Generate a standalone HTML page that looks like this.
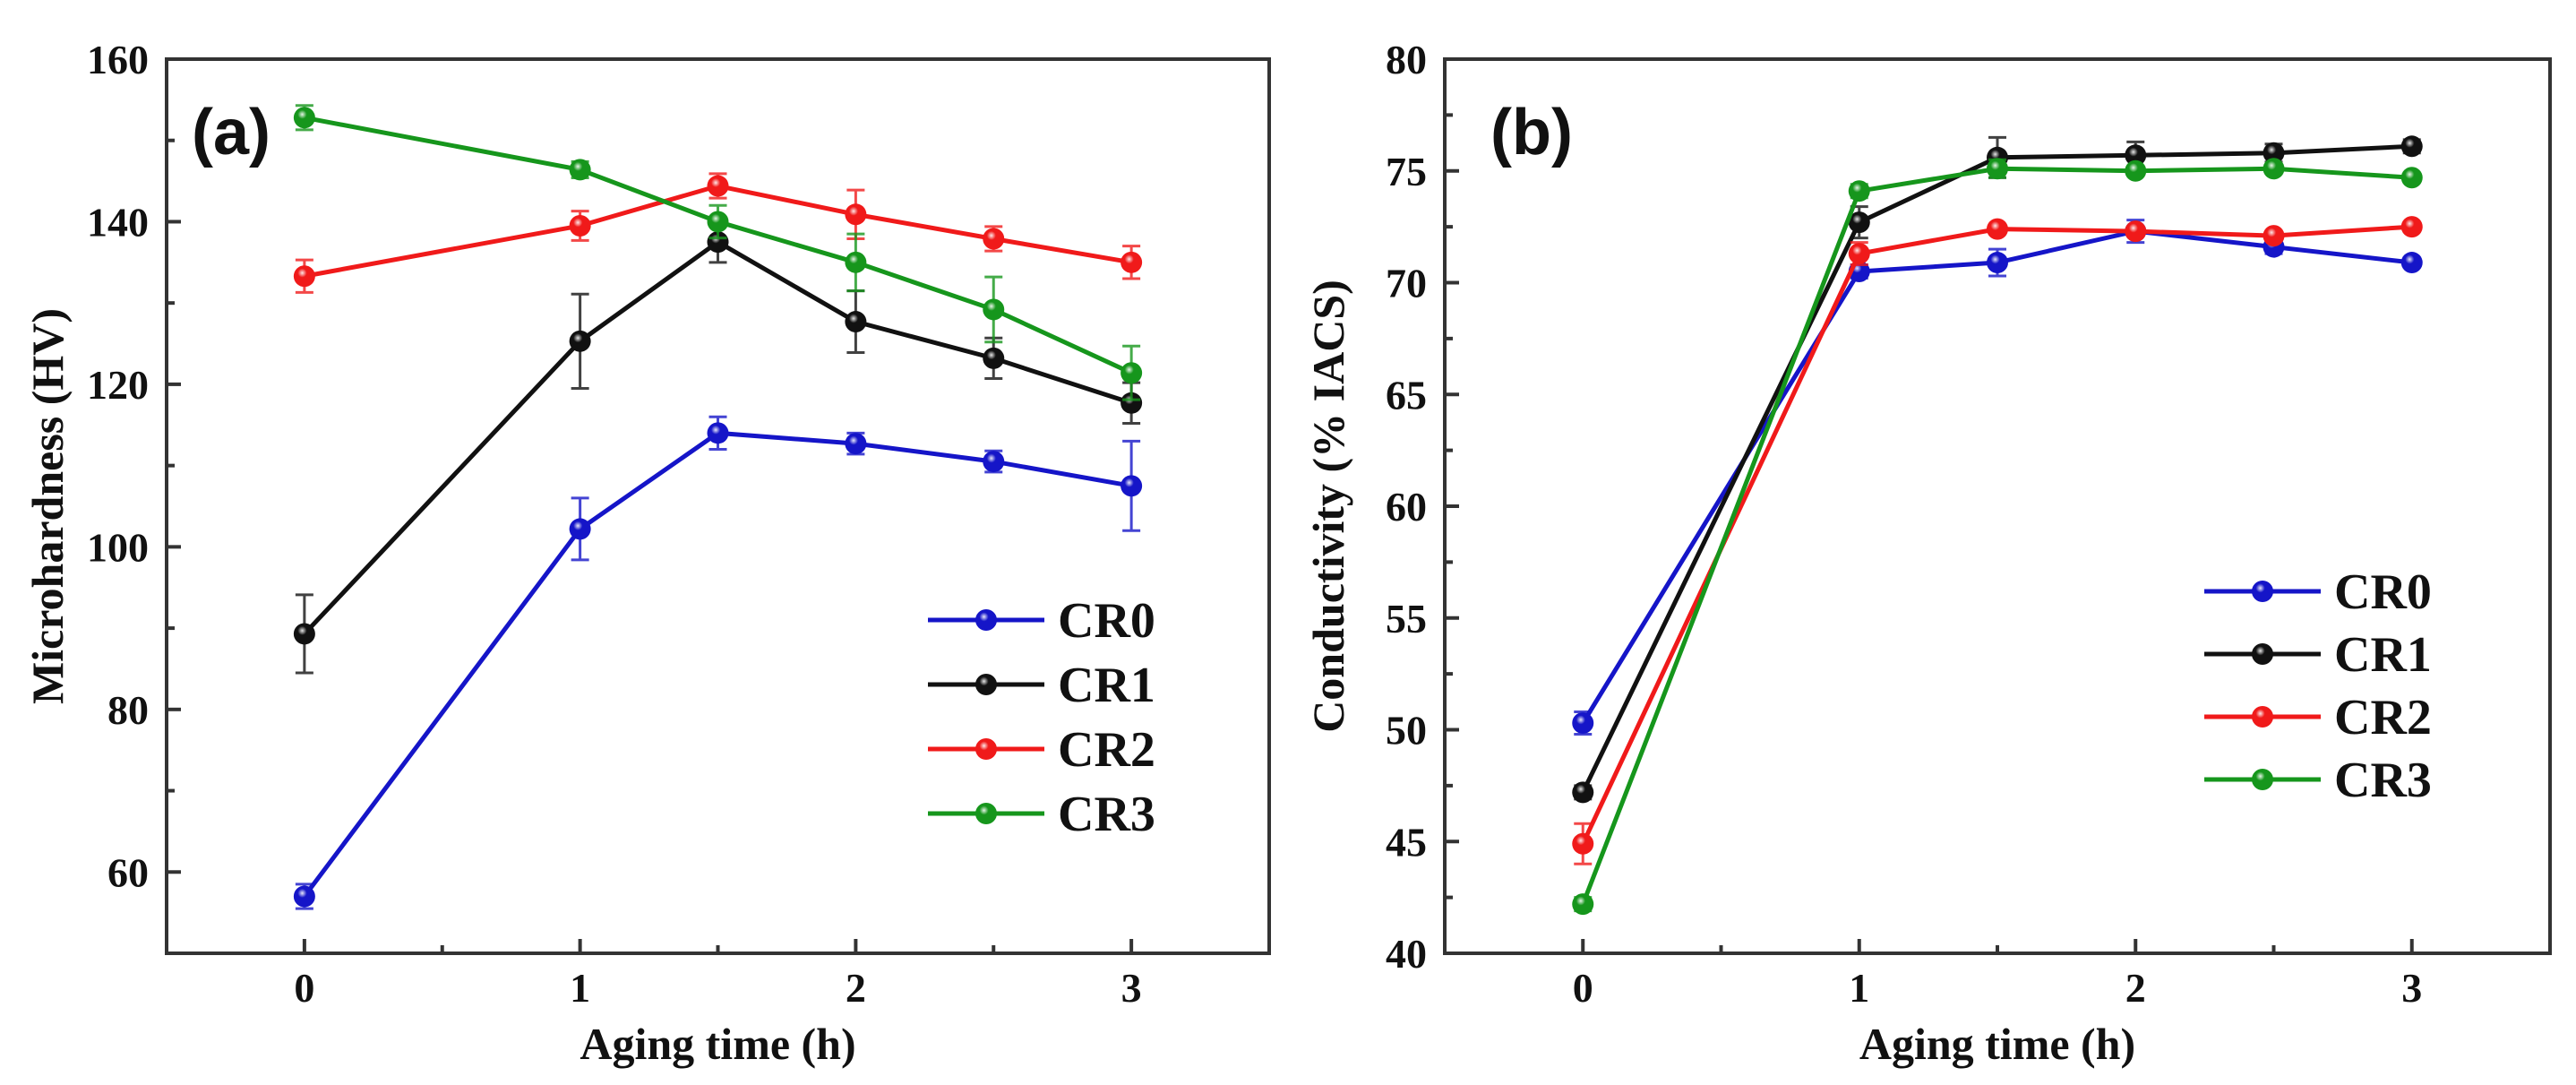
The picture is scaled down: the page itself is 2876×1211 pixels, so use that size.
<!DOCTYPE html>
<html><head><meta charset="utf-8"><style>
html,body{margin:0;padding:0;background:#fff;}
svg{display:block;}
text{font-family:"Liberation Serif",serif;font-weight:bold;fill:#111;}
</style></head><body>
<svg id="chart" width="2876" height="1211" viewBox="0 0 2876 1211" xmlns="http://www.w3.org/2000/svg">
<defs>
<radialGradient id="hl" cx="0.4" cy="0.35" r="0.6"><stop offset="0" stop-color="#fff" stop-opacity="0.9"/><stop offset="0.35" stop-color="#fff" stop-opacity="0"/></radialGradient>
</defs>
</svg>
<script>
const xVals = [0, 1, 1.5, 2, 2.5, 3];
const seriesNames = ["CR0", "CR1", "CR2", "CR3"];
const colors = ["#1515c8", "#111111", "#f01a1a", "#16961c"];
const hardCR0 = [57, 102.2, 114, 112.7, 110.5, 107.5];
const hardCR1 = [89.3, 125.3, 137.5, 127.7, 123.2, 117.7];
const hardCR2 = [133.3, 139.5, 144.4, 140.9, 137.9, 135];
const hardCR3 = [152.8, 146.4, 140, 135, 129.2, 121.4];
const hardErr0 = [1.5, 3.8, 2, 1.3, 1.3, 5.5];
const hardErr1 = [4.8, 5.8, 2.5, 3.8, 2.5, 2.5];
const hardErr2 = [2, 1.8, 1.5, 3, 1.5, 2];
const hardErr3 = [1.5, 1, 2, 3.5, 4, 3.3];
const condCR0 = [50.3, 70.5, 70.9, 72.3, 71.6, 70.9];
const condCR1 = [47.2, 72.7, 75.6, 75.7, 75.8, 76.1];
const condCR2 = [44.9, 71.3, 72.4, 72.3, 72.1, 72.5];
const condCR3 = [42.2, 74.1, 75.1, 75.0, 75.1, 74.7];
const condErr0 = [0.5, 0.3, 0.6, 0.5, 0.3, 0.2];
const condErr1 = [0.3, 0.7, 0.9, 0.6, 0.4, 0.3];
const condErr2 = [0.9, 0.5, 0.2, 0.2, 0.2, 0.2];
const condErr3 = [0.3, 0.3, 0.4, 0.2, 0.2, 0.2];
const hardTicks = [60, 80, 100, 120, 140, 160];
const condTicks = [40, 45, 50, 55, 60, 65, 70, 75, 80];
const xTicks = [0, 1, 2, 3];

const svg = document.getElementById('chart');
const NS = 'http://www.w3.org/2000/svg';
function mk(tag, attrs, parent) {
  const e = document.createElementNS(NS, tag);
  for (const k in attrs) e.setAttribute(k, attrs[k]);
  (parent || svg).appendChild(e);
  return e;
}

function panel(cfg) {
  const g = mk('g', {});
  
  
  const L = cfg.left, R = cfg.right, T = 66, B = 1064;
  const xs = v => L + (v + 0.5) / 4 * (R - L);
  const ys = v => B - (v - cfg.ymin) / (cfg.ymax - cfg.ymin) * (B - T);
  const frame = mk('rect', {x: L, y: T, width: R - L, height: B - T, fill: 'none', stroke: '#333', 'stroke-width': 4}, g);
  
  
  for (let v = 0; v <= 3.001; v += 0.5) {
    const major = Math.abs(v - Math.round(v)) < 0.01;
    const t = mk('line', {x1: xs(v), x2: xs(v), y1: B, y2: B - (major ? 16 : 9), stroke: '#333', 'stroke-width': 4}, g);
    
    
  }
  xTicks.forEach(v => {
    const t = mk('text', {x: xs(v), y: 1118, 'font-size': 46, 'text-anchor': 'middle'}, g);
    t.textContent = v;
    
    
  });
  const ticks = cfg.ticks;
  const step = ticks[1] - ticks[0];
  for (let v = cfg.ymin; v <= cfg.ymax + 0.001; v += step / 2) {
    const major = ticks.some(tv => Math.abs(tv - v) < 0.01);
    if (v <= cfg.ymin + 0.001 && !major) continue;
    const t = mk('line', {x1: L, x2: L + (major ? 16 : 9), y1: ys(v), y2: ys(v), stroke: '#333', 'stroke-width': 4}, g);
    
    
  }
  ticks.forEach(v => {
    const t = mk('text', {x: L - 20, y: ys(v) + 16, 'font-size': 46, 'text-anchor': 'end'}, g);
    t.textContent = v;
    
    
  });
  const xt = mk('text', {x: (L + R) / 2, y: 1182, 'font-size': 50, 'text-anchor': 'middle'}, g);
  xt.textContent = 'Aging time (h)';
  
  
  const yt = mk('text', {x: 0, y: 0, 'font-size': 50, 'text-anchor': 'middle', transform: `translate(${cfg.ytitleX},${(T + B) / 2}) rotate(-90)`}, g);
  yt.textContent = cfg.ytitle;
  
  
  const pl = mk('text', {x: cfg.labelX, y: 172, 'font-size': 72, style: 'font-family:"Liberation Sans",sans-serif'}, g);
  pl.textContent = cfg.label;
  
  
  cfg.data.forEach((vals, si) => {
    const c = colors[si];
    const sg = mk('g', {}, g);
    
    
    const line = mk('polyline', {points: vals.map((v, i) => xs(xVals[i]) + ',' + ys(v)).join(' '), fill: 'none', stroke: c, 'stroke-width': 5}, sg);
    
    
    vals.forEach((v, i) => {
      const e = cfg.err[si][i], x = xs(xVals[i]);
      const eb = mk('path', {d: `M${x},${ys(v + e)}V${ys(v - e)}M${x - 10},${ys(v + e)}H${x + 10}M${x - 10},${ys(v - e)}H${x + 10}`, stroke: c, 'stroke-width': 3, fill: 'none', opacity: 0.8}, sg);
      
      
      const m = mk('circle', {cx: x, cy: ys(v), r: 12, fill: c}, sg);
      
      
      mk('circle', {cx: x, cy: ys(v), r: 12, fill: 'url(#hl)'}, sg);
    });
  });
  const lg = mk('g', {}, g);
  
  
  seriesNames.forEach((n, si) => {
    const y = cfg.legY + si * cfg.legStep;
    const ent = mk('g', {}, lg);
    
    
    mk('line', {x1: cfg.legX, x2: cfg.legX + 130, y1: y, y2: y, stroke: colors[si], 'stroke-width': 5}, ent);
    mk('circle', {cx: cfg.legX + 65, cy: y, r: 12, fill: colors[si]}, ent);
    mk('circle', {cx: cfg.legX + 65, cy: y, r: 12, fill: 'url(#hl)'}, ent);
    const t = mk('text', {x: cfg.legX + 145, y: y + 19, 'font-size': 56}, ent);
    t.textContent = n;
  });
}

panel({name: 'hardness-panel', left: 186, right: 1417, ymin: 50, ymax: 160, ticks: hardTicks,
  data: [hardCR0, hardCR1, hardCR2, hardCR3], err: [hardErr0, hardErr1, hardErr2, hardErr3],
  ytitle: 'Microhardness (HV)', ytitleX: 70, label: '(a)', labelX: 214, legX: 1036, legY: 692, legStep: 72});
panel({name: 'conductivity-panel', left: 1613, right: 2847, ymin: 40, ymax: 80, ticks: condTicks,
  data: [condCR0, condCR1, condCR2, condCR3], err: [condErr0, condErr1, condErr2, condErr3],
  ytitle: 'Conductivity (% IACS)', ytitleX: 1500, label: '(b)', labelX: 1664, legX: 2461, legY: 660, legStep: 70});
</script>
</body></html>
